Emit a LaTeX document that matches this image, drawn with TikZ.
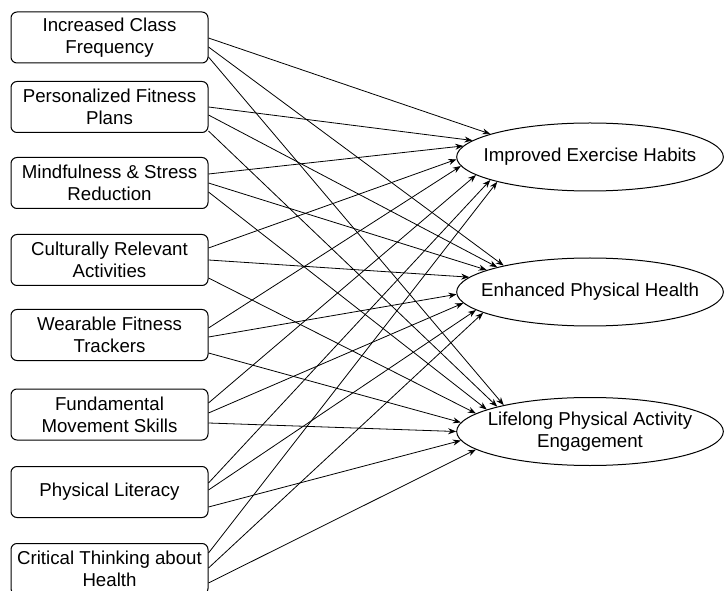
\documentclass[tikz,border=0pt]{standalone}
\usepackage{fontspec}
\setmainfont{Liberation Sans}
\usetikzlibrary{shapes.geometric,arrows.meta,calc}

\tikzset{
  cause/.style={draw, rounded corners=4.5pt, line width=0.75pt,
    minimum width=147.75pt, minimum height=38.25pt, inner sep=2pt,
    align=center, font=\fontsize{14}{16.5}\selectfont},
  goal/.style={draw, ellipse, line width=0.75pt,
    minimum width=200pt, minimum height=51pt, inner sep=0pt},
  goaltxt/.style={align=center, font=\fontsize{14}{16.5}\selectfont},
  arr/.style={-{Stealth[length=6pt,width=4.5pt]}, line width=0.6pt}
}

\begin{document}
\begin{tikzpicture}[x=0.75pt, y=-0.75pt]
        \clip (0,0) rectangle (724,591);

        % Interventions (left column)
        \node[cause] (b1) at (109.5,37.5) {Increased Class\\Frequency};
        \node[cause] (b2) at (109.5,107) {Personalized Fitness\\Plans};
        \node[cause] (b3) at (109.5,183) {Mindfulness \& Stress\\Reduction};
        \node[cause] (b4) at (109.5,260) {Culturally Relevant\\Activities};
        \node[cause] (b5) at (109.5,335) {Wearable Fitness\\Trackers};
        \node[cause] (b6) at (109.5,414.5) {Fundamental\\Movement Skills};
        \node[cause] (b7) at (109.5,492) {Physical Literacy};
        \node[cause] (b8) at (109.5,569) {Critical Thinking about\\Health};

        % Outcomes (right column)
        \node[goal, label={[goaltxt]center:Improved Exercise Habits}] (e1) at (590,157) {};
        \node[goal, label={[goaltxt]center:Enhanced Physical Health}] (e2) at (590,292) {};
        \node[goal, label={[goaltxt]center:Lifelong Physical Activity\\Engagement}] (e3) at (590,431.5) {};

        % Increased Class Frequency
        \draw[arr] ($(b1.east)+(0,0.5)$) -- (e1.167);
        \draw[arr] ($(b1.east)+(0,9.5)$) -- (e2.163);
        \draw[arr] ($(b1.east)+(0,19.5)$) -- (e3.163);

        % Personalized Fitness Plans
        \draw[arr] ($(b2.east)+(0,0)$) -- (e1.172);
        \draw[arr] ($(b2.east)+(0,8)$) -- (e2.165.5);
        \draw[arr] ($(b2.east)+(0,24)$) -- (e3.165.5);

        % Mindfulness & Stress Reduction
        \draw[arr] ($(b3.east)+(0,-9)$) -- (e1.175.5);
        \draw[arr] ($(b3.east)+(0,0)$) -- (e2.168);
        \draw[arr] ($(b3.east)+(0,9)$) -- (e3.168);

        % Culturally Relevant Activities
        \draw[arr] ($(b4.east)+(0,-12)$) -- (e1.181);
        \draw[arr] ($(b4.east)+(0,0)$) -- (e2.173);
        \draw[arr] ($(b4.east)+(0,18)$) -- (e3.171);

        % Wearable Fitness Trackers
        \draw[arr] ($(b5.east)+(0,-7)$) -- (e1.184.5);
        \draw[arr] ($(b5.east)+(0,2)$) -- (e2.181);
        \draw[arr] ($(b5.east)+(0,18)$) -- (e3.176);

        % Fundamental Movement Skills
        \draw[arr] ($(b6.east)+(0,-11.5)$) -- (e1.189);
        \draw[arr] ($(b6.east)+(0,-1.5)$) -- (e2.185);
        \draw[arr] ($(b6.east)+(0,8.5)$) -- (e3.180);

        % Physical Literacy
        \draw[arr] ($(b7.east)+(0,-9)$) -- (e1.193);
        \draw[arr] ($(b7.east)+(0,-2)$) -- (e2.189.5);
        \draw[arr] ($(b7.east)+(0,15)$) -- (e3.184.5);

        % Critical Thinking about Health
        \draw[arr] ($(b8.east)+(0,-16)$) -- (e1.195.5);
        \draw[arr] ($(b8.east)+(0,-1)$) -- (e2.191);
        \draw[arr] ($(b8.east)+(0,14)$) -- (e3.189);
\end{tikzpicture}
\end{document}
